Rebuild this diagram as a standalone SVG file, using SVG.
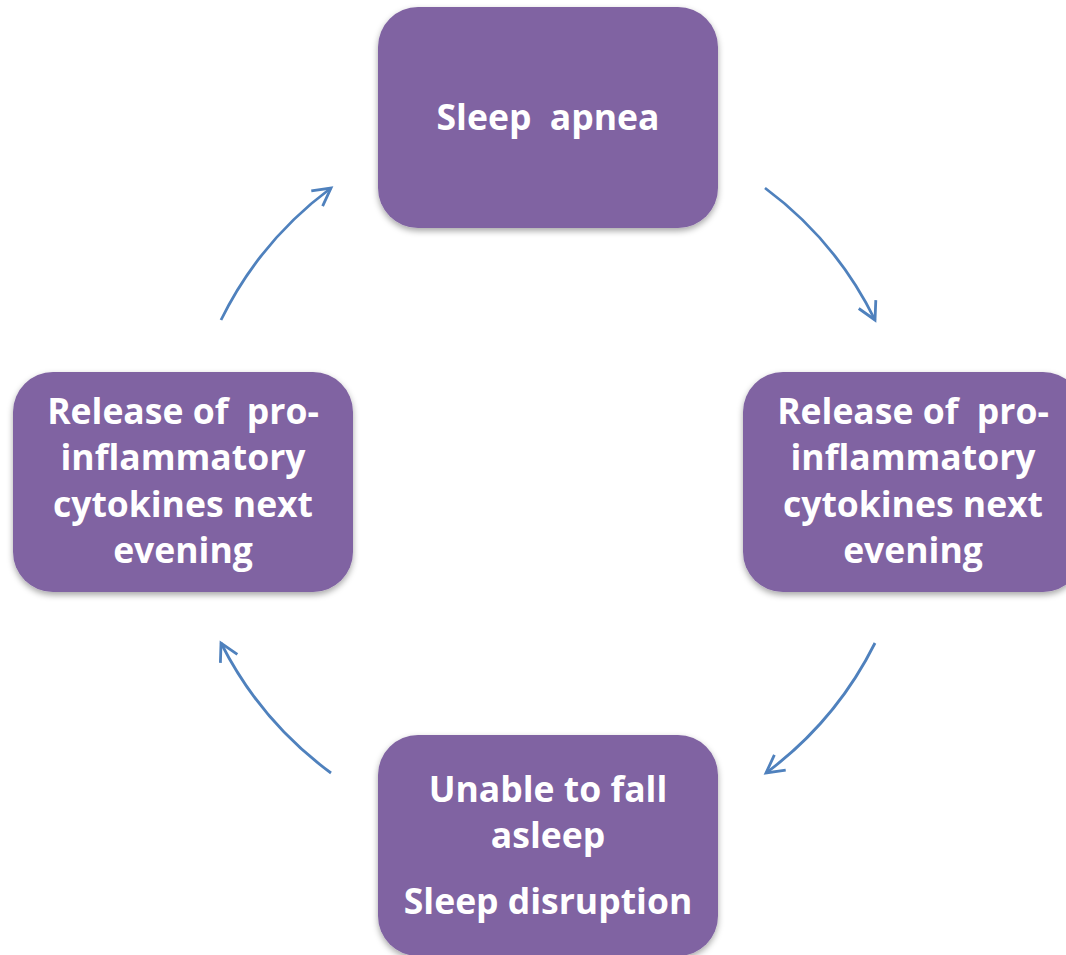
<svg xmlns="http://www.w3.org/2000/svg" width="1066" height="955" viewBox="0 0 1066 955">
<style>
.box{fill:#8064A2;filter:url(#sh);}
.t{font-family:"Open Sans","Liberation Sans",sans-serif;font-weight:bold;font-size:35.5px;fill:#FFFFFF;text-anchor:middle;}
.c{fill:none;stroke:#4F81BD;stroke-width:2.8;marker-end:url(#ah);}
</style>
<defs>
<filter id="sh" x="-10%" y="-10%" width="120%" height="130%">
<feDropShadow dx="0" dy="3" stdDeviation="3" flood-color="#000" flood-opacity="0.35"/>
</filter>
<marker id="ah" markerUnits="userSpaceOnUse" markerWidth="26" markerHeight="26" viewBox="-22 -13 26 26" refX="0" refY="0" orient="auto">
<path d="M-17.5,-9.5 L0,0 L-17.5,9.5" fill="none" stroke="#4F81BD" stroke-width="2.8"/>
</marker>
</defs>
<rect width="1066" height="955" fill="#FFFFFF"/>
<g id="connectors">
<path class="c" d="M765,188 A365,365 0 0 1 875,320"/>
<path class="c" d="M875,643 A365,365 0 0 1 766,773"/>
<path class="c" d="M331,773 A365,365 0 0 1 221,643"/>
<path class="c" d="M221,320 A365,365 0 0 1 331,188"/>
</g>
<g id="node-sleep-apnea">
<rect class="box" x="378" y="7" width="340" height="221" rx="40"/>
<text class="t" x="548" y="130" xml:space="preserve">Sleep  apnea</text>
</g>
<g id="node-release-right">
<rect class="box" x="743" y="372" width="340" height="220" rx="40"/>
<text class="t" x="913" y="424" xml:space="preserve">Release of  pro-</text>
<text class="t" x="913" y="470">inflammatory</text>
<text class="t" x="913" y="517">cytokines next</text>
<text class="t" x="913" y="563">evening</text>
</g>
<g id="node-unable">
<rect class="box" x="378" y="735" width="340" height="221" rx="40"/>
<text class="t" x="548" y="802">Unable to fall</text>
<text class="t" x="548" y="848">asleep</text>
<text class="t" x="548" y="914">Sleep disruption</text>
</g>
<g id="node-release-left">
<rect class="box" x="13" y="372" width="340" height="220" rx="40"/>
<text class="t" x="183" y="424" xml:space="preserve">Release of  pro-</text>
<text class="t" x="183" y="470">inflammatory</text>
<text class="t" x="183" y="517">cytokines next</text>
<text class="t" x="183" y="563">evening</text>
</g>
</svg>
